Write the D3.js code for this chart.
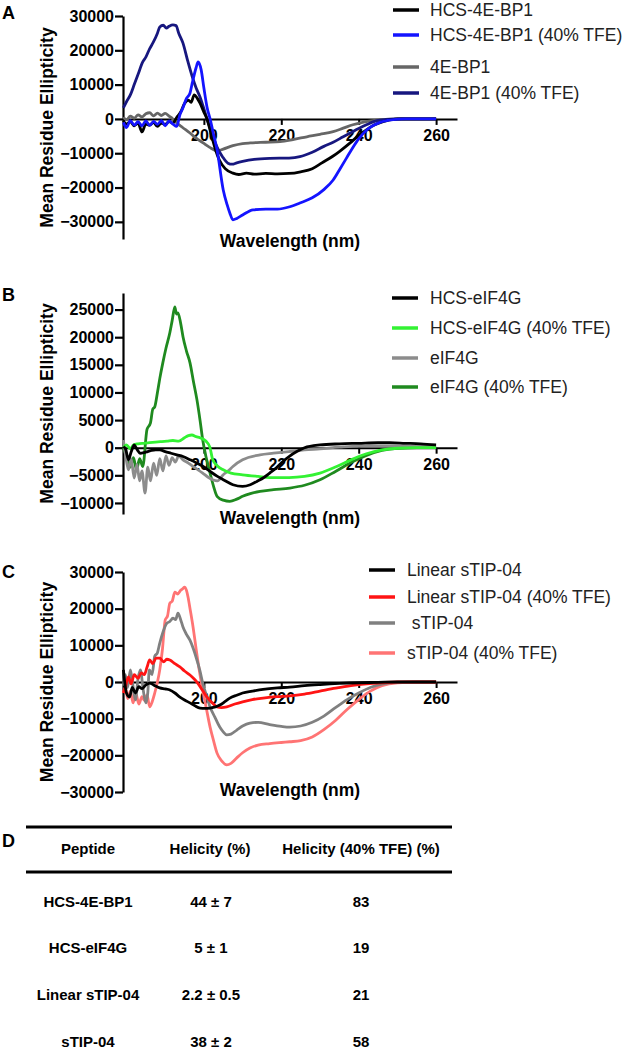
<!DOCTYPE html>
<html><head><meta charset="utf-8">
<script src="https://cdn.jsdelivr.net/npm/d3@7"></script>
<style>
html,body{margin:0;padding:0;background:#fff;}
svg{display:block;font-family:"Liberation Sans",Arial,Helvetica,sans-serif;}
</style></head><body>
<svg id="chart" width="628" height="1050"></svg>
<script>
// ---------------- DATA ----------------
const X_TICKS = [200, 220, 240, 260];
const A_Y_TICKS = [30000, 20000, 10000, 0, -10000, -20000, -30000];
const B_Y_TICKS = [25000, 20000, 15000, 10000, 5000, 0, -5000, -10000];
const C_Y_TICKS = [30000, 20000, 10000, 0, -10000, -20000, -30000];

const A_NAMES = ["HCS-4E-BP1", "HCS-4E-BP1 (40% TFE)", "4E-BP1", "4E-BP1 (40% TFE)"];
const B_NAMES = ["HCS-eIF4G", "HCS-eIF4G (40% TFE)", "eIF4G", "eIF4G (40% TFE)"];
const C_NAMES = ["Linear sTIP-04", "Linear sTIP-04 (40% TFE)", " sTIP-04", "sTIP-04 (40% TFE)"];

// [wavelength nm, mean residue ellipticity]
const A_HCS = [[179.2,-500],[180,-1500],[181,-800],[182,-2000],[183,-1200],[184,-3800],[185,-1500],[186,-1800],[187,-1000],[188,-2200],[189,-1200],[190,-1600],[191,-800],[192,-1200],[193,500],[194,2000],[195,4500],[196,5500],[196.7,4800],[197.5,7000],[198.3,6000],[199,4600],[200,2000],[200.8,0],[202,-5000],[203,-9000],[204,-12000],[205.5,-14500],[207.5,-15800],[209,-16200],[211,-15800],[213,-16100],[216,-15900],[219,-16000],[222,-15900],[225,-15400],[228,-14500],[230.5,-12800],[233.4,-10800],[235,-9500],[237.8,-7000],[240,-4800],[242,-3200],[244,-1800],[246.3,-800],[248,-300],[251,0],[260,0]];
const A_HCS_TFE = [[179.2,-1000],[180,-2500],[181,-500],[182,-1800],[183,-800],[184,-2000],[185,-600],[186,-1900],[187,-700],[188,-1600],[189,-500],[190,-2000],[191,-600],[192,-1500],[193,-2200],[193.8,1200],[194.5,3000],[195.5,6000],[196.4,7500],[197,10500],[198,15000],[198.5,16600],[199.3,14300],[200,9000],[200.8,3500],[201.6,0],[202.5,-4500],[203.4,-9000],[205,-20700],[206,-25000],[206.7,-27400],[207.5,-29400],[208.5,-29000],[210,-28000],[212.7,-26500],[216,-26300],[219,-26300],[222.2,-25600],[224.8,-24500],[228,-23000],[231,-20600],[233.4,-17800],[235.2,-14500],[236.8,-11500],[238.5,-8300],[240,-5800],[242,-3300],[245.5,-1000],[248.9,-200],[252,0],[260,0]];
const A_WT = [[179.2,500],[180,-300],[181,800],[182,200],[183,1200],[184,600],[185,1500],[186,1800],[187,900],[188,1700],[189,1000],[190,1600],[191,800],[192,0],[193,-1200],[194.5,-2500],[196.4,-4100],[198,-5600],[199.8,-7000],[201.5,-8300],[203.6,-9300],[205,-8800],[207.5,-7800],[210,-7200],[212,-7000],[216,-6800],[219.7,-6600],[223,-6000],[226.6,-5200],[230,-4500],[233.4,-3700],[236,-2700],[238.5,-1700],[241,-1000],[243.7,-500],[247,-150],[250,0],[260,0]];
const A_WT_TFE = [[179.2,3200],[180,5000],[181,7000],[182,10000],[183,13000],[184.2,16600],[185,18000],[186,20500],[187,22500],[188,25000],[188.6,26800],[189.5,27300],[190.3,26500],[191,27000],[192,27400],[192.8,27200],[193.5,25000],[194.6,22100],[195.8,17000],[197,12300],[198,9000],[199,6400],[200,3000],[200.8,0],[202,-4000],[203.4,-8200],[204.8,-11000],[206.2,-12900],[207.3,-13200],[208.5,-12800],[210,-12400],[213,-11800],[217,-11500],[222,-11400],[224.8,-11000],[228,-9700],[231,-8000],[233.4,-6800],[236,-5200],[238,-4000],[240,-2800],[242,-1700],[244.7,-500],[247,-150],[250,0],[260,0]];

const B_HCS = [[179.2,200],[179.8,-300],[180.5,-2200],[181.2,-800],[182,500],[182.8,-400],[183.5,-1000],[184.5,-900],[185.5,-700],[186.5,-500],[187.5,-400],[188.6,-400],[190,-700],[191.5,-1000],[193,-1300],[194.6,-1600],[196.5,-2200],[198.2,-2800],[200,-3500],[201.6,-4300],[203.5,-5200],[205,-5800],[207.5,-6700],[210,-7000],[212,-6700],[213.7,-6100],[215.5,-5400],[217,-4600],[218.8,-3600],[220.4,-2500],[222,-1600],[224,-700],[226,0],[230,500],[235,700],[240,800],[245,900],[248,900],[252,800],[256,700],[260,500]];
const B_HCS_TFE = [[179.2,0],[180,500],[181,-200],[181.8,500],[183,700],[184.5,800],[186,900],[187.5,1000],[189,1100],[190.5,1200],[192,1300],[193.5,1200],[195,1800],[196,2200],[196.9,2300],[198,2000],[199,1800],[200.5,1200],[201.5,200],[202.3,-2200],[203.5,-3300],[205,-4000],[207,-4600],[210,-4900],[214,-5200],[217,-5400],[222,-5400],[226,-5200],[230,-4600],[234,-3500],[238,-2200],[242,-1100],[246,-400],[250,-100],[255,0],[260,0]];
const B_WT = [[179.2,1400],[179.8,-1500],[180.5,-4000],[181.2,-2000],[182,-5500],[182.7,-3000],[183.4,-6000],[184,-4200],[184.8,-8200],[185.5,-3500],[186.2,-6000],[187,-2800],[187.8,-5000],[188.6,-2000],[189.4,-4200],[190.2,-1500],[191,-3200],[191.8,-1800],[192.6,-2600],[193.5,-1500],[194.6,-2200],[196,-2800],[197.2,-3400],[198.5,-4000],[199.7,-4600],[201,-5300],[202.3,-5800],[203.5,-6000],[205,-4900],[206.3,-4200],[207.5,-3400],[210,-2200],[214.5,-1300],[218,-1000],[222,-700],[226,-400],[230,-200],[235,100],[240,300],[250,300],[260,200]];
const B_WT_TFE = [[179.2,0],[180,-1500],[181,-3500],[181.8,-1800],[182.6,-4000],[183.4,-2000],[184.2,-3400],[185.3,3300],[186.2,4500],[186.8,7000],[187.3,7400],[188,10000],[188.6,12500],[189.4,15400],[190.2,18000],[191.2,20800],[191.8,23000],[192.5,25500],[192.9,24200],[193.3,24400],[194,22500],[194.6,20100],[195.5,17500],[196.4,15400],[197.3,12000],[198.2,8700],[199,5000],[199.7,1400],[200.5,-1500],[201.6,-4600],[202.5,-7000],[203.4,-8800],[205,-9500],[206.7,-9700],[208.5,-9300],[210,-8800],[212,-8300],[214.5,-7900],[218,-7600],[222.2,-7300],[226,-6800],[230,-5800],[234,-4300],[238,-2700],[242,-1400],[246,-500],[250,-100],[255,0],[260,0]];

const C_LIN = [[179.2,3300],[179.6,-500],[180,-3000],[180.8,-4100],[181.5,-1500],[182.3,-3000],[183.2,-1300],[184,-1800],[185,-800],[186,-300],[187,-800],[188.6,-1600],[190,-1900],[191.2,-2200],[192.5,-3000],[193.8,-4100],[195,-4900],[196.4,-5700],[197.7,-6500],[199,-7100],[200.3,-7200],[201.6,-7100],[203,-6800],[204.1,-6300],[205.5,-5300],[206.7,-4400],[208.5,-3600],[210,-3000],[212.5,-2500],[215.3,-2000],[219,-1600],[222.2,-1400],[226,-1000],[230,-700],[235,-400],[240,-200],[245,-100],[250,0],[260,0]];
const C_LIN_TFE = [[179.2,-3000],[179.8,-1000],[180.5,1400],[181.2,-500],[182,2000],[183,1000],[183.8,2500],[184.6,2000],[185.3,4000],[186,6000],[186.8,5000],[187.6,6500],[188.6,6500],[189.6,5500],[190.4,6200],[191.2,6000],[192.5,5000],[193.8,4100],[195,3000],[196.4,1900],[197.5,800],[198.4,-300],[199.6,-2200],[200.8,-4100],[202,-5500],[203.4,-6800],[204.6,-7000],[205.9,-6800],[208,-6000],[210,-5400],[212.5,-4800],[215.3,-4400],[219,-4000],[222.2,-3800],[226,-3300],[230,-2500],[234,-1700],[238,-1000],[242,-500],[246,-200],[250,0],[260,0]];
const C_CYC = [[179.2,-1000],[179.7,2000],[180.3,-1500],[181,3300],[181.6,-500],[182.3,-4900],[183,1000],[183.6,3300],[184.3,-2000],[185,-5700],[185.5,-3000],[185.9,3300],[186.6,2000],[187.3,7000],[188,8000],[188.6,10600],[189.4,13500],[190.4,16000],[191.2,16500],[192,17400],[192.7,17000],[193.3,18800],[194,17000],[194.6,15000],[195.5,13000],[196.4,11400],[197.3,9000],[198.2,6000],[199,3000],[199.7,-300],[200.6,-3500],[201.6,-6800],[202.8,-9500],[204.1,-12300],[205,-13600],[205.9,-14400],[207,-14200],[208.5,-13100],[210,-12000],[211.9,-11200],[214,-11000],[217,-11600],[220,-12100],[222.2,-12300],[225,-12000],[228,-11000],[231,-9300],[234,-7000],[237,-4800],[240,-3000],[243,-1500],[246,-600],[250,-100],[255,0],[260,0]];
const C_CYC_TFE = [[179.2,-3000],[179.7,-1500],[180.3,-4500],[181,-2500],[181.7,-5700],[182.4,-3000],[183.2,-6000],[184,-4000],[184.6,-5000],[185.3,-3500],[186,-6800],[186.6,-5500],[187.3,-3000],[188,0],[188.6,3300],[189.3,9000],[190,16900],[190.6,18000],[191.2,21500],[191.8,22000],[192.5,24500],[193.2,24000],[194,25000],[194.6,25500],[195,25900],[195.5,25000],[195.9,23200],[196.5,19500],[197.2,15000],[197.8,10500],[198.4,6000],[199,2000],[199.7,-2200],[200.6,-7000],[201.6,-12300],[202.5,-16000],[203.4,-19400],[204.6,-21500],[205.9,-22600],[207,-22200],[208.5,-20700],[210,-19300],[211.9,-18000],[214,-17200],[217,-16800],[220,-16500],[222.2,-16300],[225,-16000],[228,-15000],[231,-13000],[234,-10500],[237,-7500],[240,-4800],[243,-2500],[246,-1000],[250,-200],[255,0],[260,0]];

const TABLE_HEAD = ["Peptide", "Helicity (%)", "Helicity (40% TFE) (%)"];
const TABLE_PEPTIDE = ["HCS-4E-BP1", "HCS-eIF4G", "Linear sTIP-04", "sTIP-04"];
const TABLE_HELIX = ["44 ± 7", "5 ± 1", "2.2 ± 0.5", "38 ± 2"];
const TABLE_HELIX_TFE = ["83", "19", "21", "58"];

// ---------------- DRAW ----------------
const svg = d3.select("#chart");
const FONT_TICK = 16, FONT_TITLE = 17.5;

const panels = [
  { letter: "A", letterY: 13, yDomain: [-35000, 30000], yRange: [239, 16], yTicks: A_Y_TICKS, xTitleY: 241,
    names: A_NAMES, series: [A_HCS, A_HCS_TFE, A_WT, A_WT_TFE],
    colors: ["#000000", "#1414ff", "#666666", "#17177f"], drawOrder: [2, 3, 0, 1],
    legRows: [10, 35, 67, 93], legX: 393, legTextX: 430 },
  { letter: "B", letterY: 295, yDomain: [-12000, 28000], yRange: [514, 293], yTicks: B_Y_TICKS, xTitleY: 518,
    names: B_NAMES, series: [B_HCS, B_HCS_TFE, B_WT, B_WT_TFE],
    colors: ["#000000", "#33f233", "#8c8c8c", "#1f8a1f"], drawOrder: [3, 2, 1, 0],
    legRows: [298, 328, 358, 387], legX: 392, legTextX: 430 },
  { letter: "C", letterY: 572, yDomain: [-30000, 30000], yRange: [792, 572], yTicks: C_Y_TICKS, xTitleY: 790,
    names: C_NAMES, series: [C_LIN, C_LIN_TFE, C_CYC, C_CYC_TFE],
    colors: ["#000000", "#ff1414", "#808080", "#ff7474"], drawOrder: [3, 2, 1, 0],
    legRows: [570, 597, 623, 653], legX: 369, legTextX: 407 }
];

panels.forEach(p => {
  const x = d3.scaleLinear().domain([179.1, 265.4]).range([123, 457]);
  const y = d3.scaleLinear().domain(p.yDomain).range(p.yRange);
  const g = svg.append("g");

  const ya = g.append("g").attr("transform", "translate(123,0)")
    .call(d3.axisLeft(y).tickValues(p.yTicks).tickFormat(d3.format("d")).tickSize(8).tickSizeOuter(0).tickPadding(1));
  ya.select(".domain").attr("stroke", "#000").attr("stroke-width", 2.2);
  ya.selectAll(".tick line").attr("stroke", "#000").attr("stroke-width", 2.2);
  ya.selectAll(".tick text").attr("fill", "#000").attr("font-size", FONT_TICK).attr("font-weight", "bold")
    .attr("font-family", "'Liberation Sans',Arial,sans-serif");

  const xa = g.append("g").attr("transform", `translate(0,${y(0)})`)
    .call(d3.axisBottom(x).tickValues(X_TICKS).tickFormat(d3.format("d")).tickSize(6).tickSizeOuter(0).tickPadding(5));
  xa.select(".domain").attr("stroke", "#000").attr("stroke-width", 2);
  xa.selectAll(".tick line").attr("stroke", "#000").attr("stroke-width", 2);
  xa.selectAll(".tick text").attr("fill", "#000").attr("font-size", FONT_TICK).attr("font-weight", "bold")
    .attr("font-family", "'Liberation Sans',Arial,sans-serif");

  g.append("text").attr("x", 290).attr("y", p.xTitleY).attr("dy", "0.35em")
    .attr("text-anchor", "middle").attr("font-size", FONT_TITLE).attr("font-weight", "bold").text("Wavelength (nm)");
  const yc = (p.yRange[0] + p.yRange[1]) / 2;
  g.append("text").attr("transform", `translate(47,${yc}) rotate(-90)`).attr("dy", "0.35em")
    .attr("text-anchor", "middle").attr("font-size", FONT_TITLE).attr("font-weight", "bold").text("Mean Residue Ellipticity");
  g.append("text").attr("x", 2).attr("y", p.letterY).attr("dy", "0.35em")
    .attr("font-size", 18).attr("font-weight", "bold").text(p.letter);

  const line = d3.line().x(d => x(d[0])).y(d => y(d[1])).curve(d3.curveMonotoneX);
  p.drawOrder.forEach(i => {
    g.append("path").datum(p.series[i]).attr("d", line).attr("fill", "none")
      .attr("stroke", p.colors[i]).attr("stroke-width", 2.8).attr("stroke-linejoin", "round");
  });

  p.names.forEach((n, i) => {
    const ry = p.legRows[i];
    g.append("line").attr("x1", p.legX).attr("x2", p.legX + 26).attr("y1", ry).attr("y2", ry)
      .attr("stroke", p.colors[i]).attr("stroke-width", 3.5);
    g.append("text").attr("x", p.legTextX).attr("y", ry).attr("dy", "0.35em")
      .attr("font-size", 17.5).attr("fill", "#222").style("white-space", "pre").text(n);
  });
});

// ---------------- TABLE D ----------------
const t = svg.append("g");
t.append("text").attr("x", 2).attr("y", 841).attr("dy", "0.35em").attr("font-size", 18).attr("font-weight", "bold").text("D");
t.append("line").attr("x1", 26).attr("x2", 452).attr("y1", 827).attr("y2", 827).attr("stroke", "#000").attr("stroke-width", 3);
t.append("line").attr("x1", 26).attr("x2", 452).attr("y1", 872).attr("y2", 872).attr("stroke", "#000").attr("stroke-width", 3);
const colX = [88, 210, 361];
TABLE_HEAD.forEach((h, i) => {
  t.append("text").attr("x", colX[i]).attr("y", 849).attr("dy", "0.35em").attr("text-anchor", "middle")
    .attr("font-size", 15).attr("font-weight", "bold").text(h);
});
const rowY = [902, 948, 995, 1042];
const colsData = [TABLE_PEPTIDE, TABLE_HELIX, TABLE_HELIX_TFE];
colsData.forEach((col, ci) => {
  col.forEach((v, ri) => {
    t.append("text").attr("x", colX[ci] + (ci === 1 ? 1 : 0)).attr("y", rowY[ri]).attr("dy", "0.35em").attr("text-anchor", "middle")
      .attr("font-size", 15).attr("font-weight", "bold").text(v);
  });
});
</script>
</body></html>
